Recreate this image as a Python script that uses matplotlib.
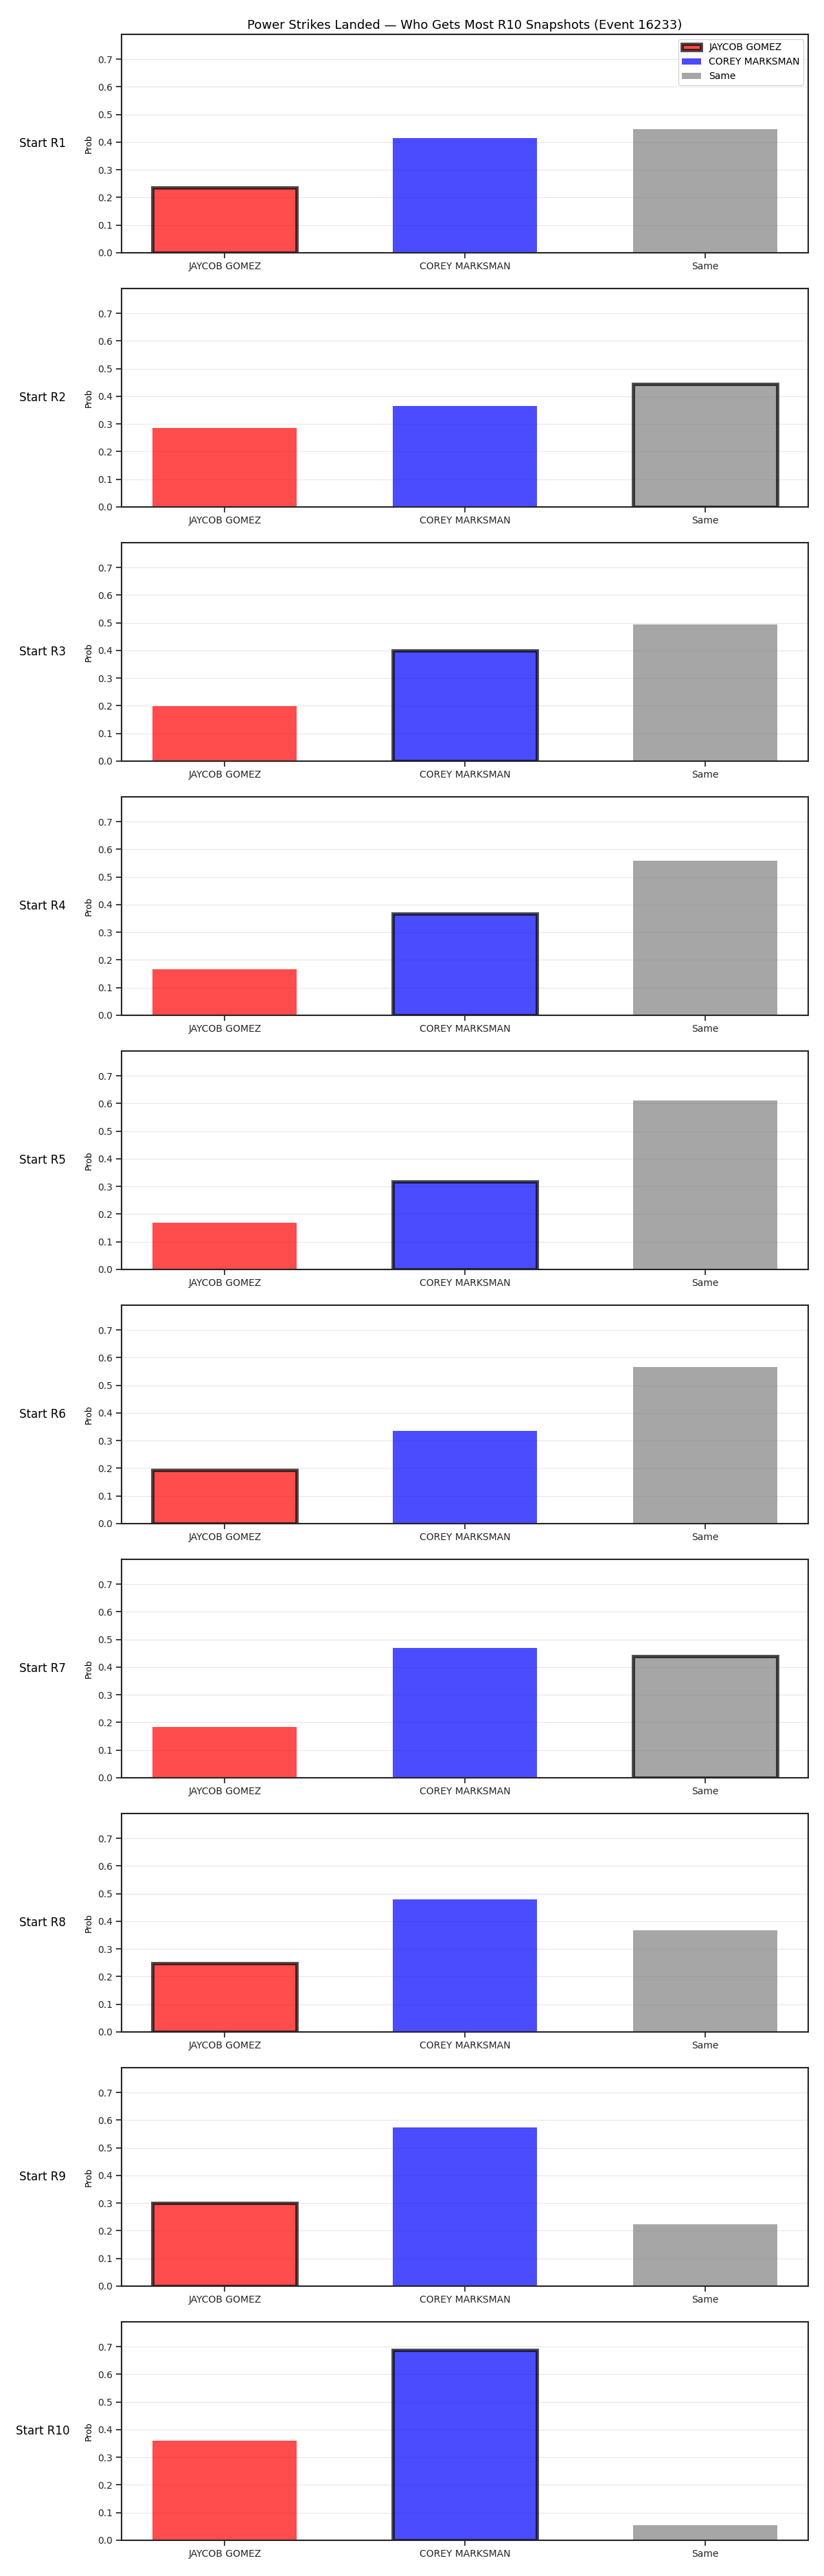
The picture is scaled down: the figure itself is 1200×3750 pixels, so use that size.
import matplotlib
matplotlib.use("Agg")
import matplotlib.pyplot as plt
import numpy as np

title = "Power Strikes Landed — Who Gets Most R10 Snapshots (Event 16233)"
categories = ["JAYCOB GOMEZ", "COREY MARKSMAN", "Same"]
rounds = ["Start R1", "Start R2", "Start R3", "Start R4", "Start R5",
          "Start R6", "Start R7", "Start R8", "Start R9", "Start R10"]
jaycob = [0.235, 0.286, 0.198, 0.166, 0.170, 0.193, 0.184, 0.248, 0.300, 0.359]
corey = [0.415, 0.365, 0.400, 0.368, 0.319, 0.335, 0.469, 0.480, 0.573, 0.687]
same = [0.447, 0.445, 0.495, 0.558, 0.610, 0.567, 0.440, 0.367, 0.223, 0.055]
highlight = [0, 2, 1, 1, 1, 0, 2, 0, 0, 1]
colors = ["red", "blue", "gray"]

plt.rcParams.update({
    "axes.edgecolor": "#262626",
    "axes.linewidth": 1.5,
    "xtick.major.size": 6,
    "ytick.major.size": 6,
    "xtick.major.width": 1.25,
    "ytick.major.width": 1.25,
    "xtick.color": "#262626",
    "ytick.color": "#262626",
})

fig, axes = plt.subplots(len(rounds), 1, figsize=(12, 37.5), dpi=100)
fig.subplots_adjust(left=0.1475, right=0.981, top=0.98667, bottom=0.01387, hspace=0.1635)

x = np.arange(len(categories))
for i, ax in enumerate(axes):
    vals = [jaycob[i], corey[i], same[i]]
    bars = ax.bar(x, vals, width=0.6, color=colors, alpha=0.7, linewidth=0)
    hb = bars[highlight[i]]
    hb.set_edgecolor("black")
    hb.set_linewidth(3.5)
    ax.set_xticks(x)
    ax.set_xticklabels(categories, fontsize=10)
    ax.tick_params(axis="y", labelsize=10)
    ax.set_ylim(0, 0.79)
    ax.set_yticks(np.arange(0, 0.71, 0.1))
    ax.yaxis.grid(True, alpha=0.3)
    ax.set_axisbelow(True)
    ax.set_ylabel("Prob", fontsize=9)
    ax.text(-0.115, 0.5, rounds[i], transform=ax.transAxes, ha="center", va="center", fontsize=12)
    if i == 0:
        ax.set_title(title, fontsize=13)
        ax.legend(bars, categories, loc="upper right", fontsize=10)

fig.savefig("out.png", dpi=100)
